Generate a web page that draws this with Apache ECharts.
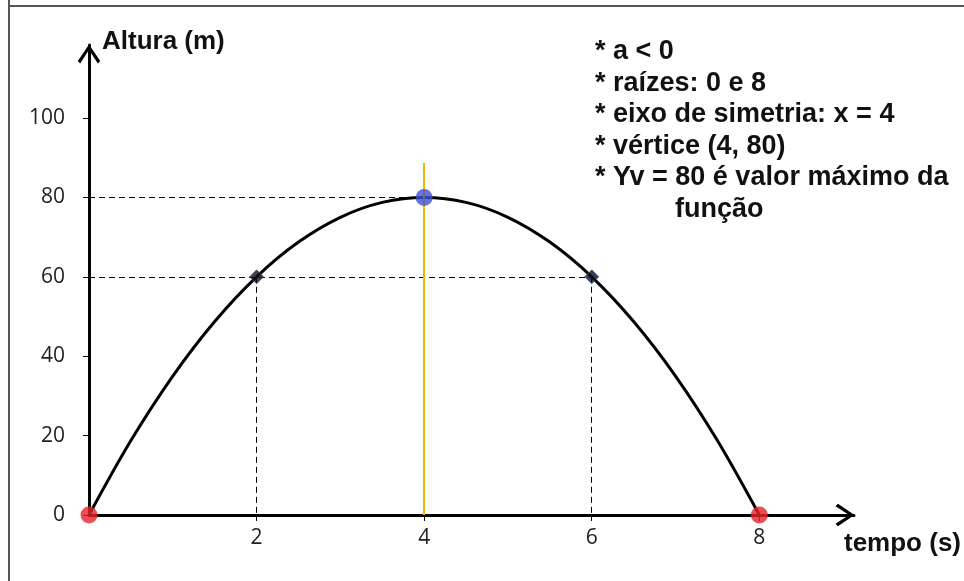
<!DOCTYPE html>
<html>
<head>
<meta charset="utf-8">
<script src="https://cdn.jsdelivr.net/npm/echarts@6/dist/echarts.min.js"></script>
<style>
  html, body { margin: 0; padding: 0; background: #fff; }
  #chart { width: 964px; height: 581px; }
</style>
</head>
<body>
<div id="chart"></div>
<script>
// curve readings, height (m) per time (s)
const tempo = [0, 0.5, 1, 1.5, 2, 2.5, 3, 3.5, 4, 4.5, 5, 5.5, 6, 6.5, 7, 7.5, 8];
const altura = [0, 18.75, 35, 48.75, 60, 68.75, 75, 78.75, 80, 78.75, 75, 68.75, 60, 48.75, 35, 18.75, 0];

// highlighted points
const raizes = [[0, 0], [8, 0]];
const vertice = [[4, 80]];
const pontos60 = [[2, 60], [6, 60]];

// tick labels
const xTicks = [2, 4, 6, 8];
const yTicks = [0, 20, 40, 60, 80, 100];

// dashed guides and symmetry axis
const guias = [
  [[0, 80], [4, 80]],
  [[0, 60], [6, 60]],
  [[2, 60], [2, 0]],
  [[6, 60], [6, 0]],
];
const eixoSimetria = [[4, 0], [4, 88.7]];

const notas = [
  "* a < 0",
  "* raízes: 0 e 8",
  "* eixo de simetria: x = 4",
  "* vértice (4, 80)",
  "* Yv = 80 é valor máximo da",
  "função",
];

const chevron = "path://M11.5,0 L23,17 L20.5,19.5 L11.5,5.5 L2.5,19.5 L0,17 Z";
const boldFont = { fontFamily: "Liberation Sans", fontWeight: "bold", fontSize: 26, color: "#111" };

const chart = echarts.init(document.getElementById("chart"));
chart.setOption({
  animation: false,
  grid: { left: 89, right: 109, top: 45, bottom: 66 },
  xAxis: {
    type: "value",
    min: 0,
    max: 9.13,
    splitLine: { show: false },
    axisLine: {
      onZero: false,
      symbol: ["none", chevron],
      symbolSize: [23, 19],
      symbolOffset: [0, -9],
      lineStyle: { color: "#000", width: 3 },
    },
    axisTick: { customValues: xTicks, length: 6, lineStyle: { color: "#000" } },
    axisLabel: {
      customValues: xTicks,
      margin: 13,
      fontFamily: "Open Sans",
      fontSize: 21,
      color: "#222",
    },
    name: "tempo (s)",
    nameLocation: "end",
    nameGap: -10,
    nameTextStyle: Object.assign({ align: "left", verticalAlign: "top", padding: [16, 0, 0, 0] }, boldFont),
  },
  yAxis: {
    type: "value",
    min: 0,
    max: 118.4,
    splitLine: { show: false },
    axisLine: {
      onZero: false,
      symbol: ["none", chevron],
      symbolSize: [23, 19],
      symbolOffset: [0, -9],
      lineStyle: { color: "#000", width: 3 },
    },
    axisTick: { customValues: yTicks, length: 6, lineStyle: { color: "#000" } },
    axisLabel: {
      customValues: yTicks,
      margin: 24,
      fontFamily: "Open Sans",
      fontSize: 21,
      color: "#222",
    },
    name: "Altura (m)",
    nameLocation: "end",
    nameGap: 3,
    nameTextStyle: Object.assign({ align: "left", verticalAlign: "middle", padding: [0, 0, 0, 13] }, boldFont),
  },
  graphic: [
    { type: "line", shape: { x1: 9, y1: 0, x2: 9, y2: 581 }, style: { stroke: "#555", lineWidth: 2 } },
    { type: "line", shape: { x1: 8, y1: 6, x2: 964, y2: 6 }, style: { stroke: "#555", lineWidth: 2 } },
  ].concat(
    notas.map((t, i) => ({
      type: "text",
      left: i === 5 ? 675 : 595,
      top: 38 + i * 31.6,
      style: {
        text: t,
        font: "bold 27px 'Liberation Sans'",
        fill: "#111",
      },
    }))
  ),
  series: [
    {
      type: "line",
      data: tempo.map((t, i) => [t, altura[i]]),
      smooth: 0.33,
      showSymbol: false,
      lineStyle: { color: "#000", width: 3 },
      z: 3,
      markLine: {
        silent: true,
        symbol: "none",
        label: { show: false },
        data: guias
          .map((g) => [
            { coord: g[0], lineStyle: { color: "#000", type: [6, 4], width: 1 } },
            { coord: g[1] },
          ])
          .concat([
            [
              { coord: eixoSimetria[0], lineStyle: { color: "#f5b700", type: "solid", width: 2 } },
              { coord: eixoSimetria[1] },
            ],
          ]),
      },
    },
    {
      type: "scatter",
      data: pontos60,
      symbol: "diamond",
      symbolSize: 14,
      itemStyle: { color: "#111", borderColor: "#3b5bbf", borderWidth: 1 },
      z: 5,
    },
    {
      type: "scatter",
      data: vertice,
      symbolSize: 17,
      itemStyle: { color: "#4050d0" },
      z: 6,
    },
    {
      type: "scatter",
      data: raizes,
      symbolSize: 17,
      itemStyle: { color: "#e8202a" },
      z: 6,
    },
  ],
});
</script>
</body>
</html>
